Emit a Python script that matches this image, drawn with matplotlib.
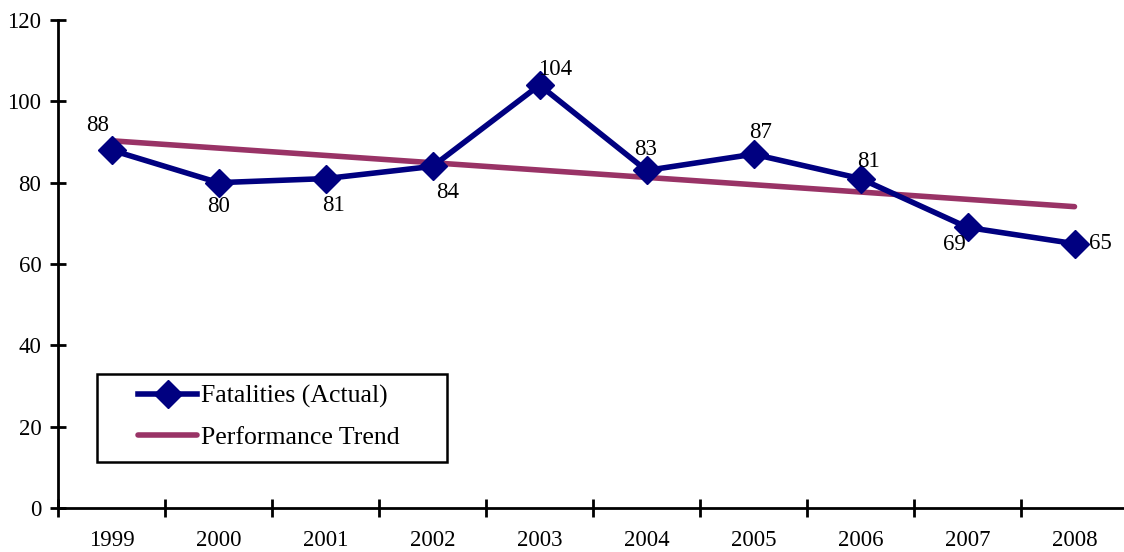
import matplotlib
matplotlib.use("Agg")
import matplotlib.pyplot as plt
from matplotlib.patches import Rectangle

years = ["1999", "2000", "2001", "2002", "2003", "2004", "2005", "2006", "2007", "2008"]
fatalities = [88, 80, 81, 84, 104, 83, 87, 81, 69, 65]
trend_years_idx = [0, 9]
trend_values = [90.3, 74.1]
yticks = [0, 20, 40, 60, 80, 100, 120]

# label offsets in pixels (style)
label_offsets = [(-14, 25), (0, -24), (8, -27), (15, -26), (16, 16),
                 (-1, 21), (7, 22), (8, 17), (-13, -17), (26, 0)]

plt.rcParams['font.family'] = ['Liberation Serif', 'DejaVu Serif']

W, H = 1124, 552
fig = plt.figure(figsize=(W / 100, H / 100), dpi=100)
ax = fig.add_axes([58/W, 44/H, 1070/W, 488/H])

x = list(range(len(years)))
navy = "#000080"
plum = "#993366"

ax.plot(trend_years_idx, trend_values, color=plum, lw=4.0, solid_capstyle='round',
        label="Performance Trend", zorder=2)
ax.plot(x, fatalities, color=navy, lw=4.0, marker='D', markersize=14,
        label="Fatalities (Actual)", zorder=3)

for xi, v, (dx, dy) in zip(x, fatalities, label_offsets):
    ax.annotate(str(v), (xi, v), xytext=(dx * 0.72, dy * 0.72), textcoords='offset points',
                ha='center', va='center', fontsize=16.5, color='black')

ax.set_xlim(-0.5, 9.5)
ax.set_ylim(0, 120)
ax.set_yticks(yticks)
ax.set_yticklabels([str(t) for t in yticks], fontsize=16.5)
ax.set_xticks([i - 0.5 for i in range(len(years))])
ax.set_xticklabels([])
ax.set_xticks(x, minor=True)
ax.set_xticklabels(years, minor=True, fontsize=16.5)
ax.tick_params(axis='x', which='minor', length=0, pad=16)
ax.tick_params(axis='x', which='major', direction='inout', length=13, width=2)
ax.tick_params(axis='y', direction='inout', length=12, width=2, pad=6)

for s in ['top', 'right']:
    ax.spines[s].set_visible(False)
for s in ['left', 'bottom']:
    ax.spines[s].set_linewidth(2)

handles, labels = ax.get_legend_handles_labels()
leg = fig.legend(handles[::-1], labels[::-1], loc='upper left',
                 bbox_to_anchor=(138/W, 1 - 385/H), fontsize=18.5, frameon=False,
                 handlelength=2.3, handletextpad=0.15,
                 borderpad=0, labelspacing=0.7, borderaxespad=0)
fig.add_artist(Rectangle((97/W, 1 - 462/H), 350/W, 88/H, transform=fig.transFigure,
                         fill=False, edgecolor='black', lw=1.8, zorder=5))

fig.savefig("out.png", dpi=100)
